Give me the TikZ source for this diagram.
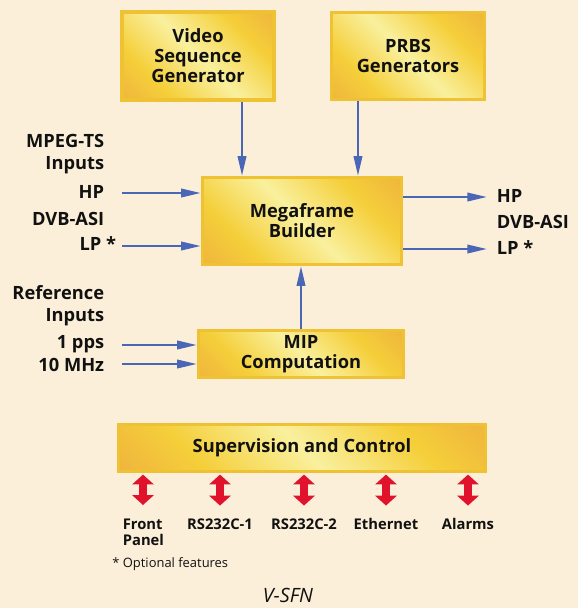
\documentclass[tikz,border=0pt]{standalone}
\usepackage{fontspec}
\setmainfont{Open Sans}
\usetikzlibrary{arrows, arrows.meta, positioning, calc}

\definecolor{cream}{HTML}{FCEFD9}
\definecolor{goldA}{HTML}{F9F09E}
\definecolor{goldB}{HTML}{F5CF3A}
\definecolor{goldC}{HTML}{EA9C40}
\definecolor{goldE}{HTML}{EEC232}
\definecolor{sigblue}{HTML}{4A66B6}
\definecolor{ctlred}{HTML}{E0122C}
\definecolor{ink}{HTML}{111111}

\pgfdeclarehorizontalshading{goldfill}{100bp}{color(0bp)=(goldC); color(30bp)=(goldB); color(50bp)=(goldA); color(70bp)=(goldB); color(100bp)=(goldC)}

\newcommand\boxfont{\fontsize{13}{14.2}\selectfont\bfseries}
\newcommand\lblfont{\fontsize{13}{15.6}\selectfont\bfseries}
\newcommand\portfont{\fontsize{10.5}{11.4}\selectfont\bfseries}

\begin{document}
\begin{tikzpicture}
            [x=0.025cm, y=-0.025cm, semithick, text=ink,
            block/.style={rectangle, align=center, draw=goldE, line width=2.5pt,
                shade, shading=goldfill, shading angle=45, font=\boxfont},
            lbl/.style={font=\lblfont, inner sep=1pt},
            port/.style={font=\portfont, inner sep=1pt},
            sig/.style={draw=sigblue, line width=1.6pt, -{Triangle[length=14pt,width=6pt]}},
            ctl/.style={draw=ctlred, line width=6pt,
                {Triangle[length=7pt,width=15pt]}-{Triangle[length=7pt,width=15pt]}}]

            \useasboundingbox (0,0) rectangle (578,608);
            \fill[cream] (0,0) rectangle (578,608);

            % blocks
            \node[block, minimum width=3.8cm, minimum height=2.2cm] (vsg) at (198,56) {Video\\Sequence\\Generator};
            \node[block, minimum width=3.82cm, minimum height=2.17cm] (prbs) at (408,56) {PRBS\\Generators};
            \node[block, minimum width=4.97cm, minimum height=2.17cm] (mfb) at (302,221) {Megaframe\\Builder};
            \node[block, minimum width=5.12cm, minimum height=1.17cm] (mip) at (301,354) {MIP\\Computation};
            \node[block, minimum width=9.17cm, minimum height=1.17cm] (sup) at (302,448) {Supervision and Control};

            % input labels
            \node[lbl, anchor=east, align=right] (mpeg) at (106,154) {MPEG-TS\\Inputs};
            \node[lbl, anchor=base east] (hpin) at (106,198) {HP};
            \node[lbl, anchor=base east] (dvbin) at (106,225) {DVB-ASI};
            \node[lbl, anchor=base east] (lpin) at (118,250) {LP *};
            \node[lbl, anchor=east, align=right] (refin) at (106,306) {Reference\\Inputs};
            \node[lbl, anchor=base east] (pps) at (106,348) {1 pps};
            \node[lbl, anchor=base east] (mhz) at (106,371) {10 MHz};

            % output labels
            \node[lbl, anchor=base west] (hpout) at (495,202) {HP};
            \node[lbl, anchor=base west] (dvbout) at (495,228) {DVB-ASI};
            \node[lbl, anchor=base west] (lpout) at (495,254) {LP *};

            \coordinate (hpa) at (122,193);
            \coordinate (lpa) at (122,246);
            \coordinate (ppsa) at (122,345);
            \coordinate (mhza) at (122,364);
            \coordinate (hpb) at (487,197);
            \coordinate (lpb) at (487,249);

            \draw[sig] ([xshift=1.1cm]vsg.south) -- ([xshift=1.1cm]vsg.south |- mfb.north);
            \draw[sig] ([xshift=-1.25cm]prbs.south) -- ([xshift=-1.25cm]prbs.south |- mfb.north);
            \draw[sig] (hpa) -- (hpa -| mfb.west);
            \draw[sig] (lpa) -- (lpa -| mfb.west);
            \draw[sig] (hpb -| mfb.east) -- (hpb);
            \draw[sig] (lpb -| mfb.east) -- (lpb);
            \draw[sig] (mip.north) -- (mip.north |- mfb.south);
            \draw[sig] (ppsa) -- (ppsa -| mip.west);
            \draw[sig] (mhza) -- (mhza -| mip.west);

            % ports
            \node[port, anchor=north west, align=left] (fp) at (121,517) {Front\\Panel};
            \node[port, anchor=base] (rs1) at (220,529) {RS232C-1};
            \node[port, anchor=base] (rs2) at (304,529) {RS232C-2};
            \node[port, anchor=base] (eth) at (386,529) {Ethernet};
            \node[port, anchor=base] (alm) at (468,529) {Alarms};

            \coordinate (fpa) at (143,505);
            \draw[ctl] ([yshift=-1pt]sup.south -| fpa) -- (fpa);
            \draw[ctl] ([yshift=-1pt]sup.south -| rs1) -- ++(0,31);
            \draw[ctl] ([yshift=-1pt]sup.south -| rs2) -- ++(0,31);
            \draw[ctl] ([yshift=-1pt]sup.south -| eth) -- ++(0,31);
            \draw[ctl] ([yshift=-1pt]sup.south -| alm) -- ++(0,31);

            \node[anchor=base west, inner sep=0pt, font=\fontsize{9.2}{11}\selectfont] (note) at (112,567) {* Optional features};
            \node[anchor=base, inner sep=0pt, font=\fontsize{14}{16}\selectfont\itshape] (title) at (288,602) {V-SFN};
\end{tikzpicture}
\end{document}
